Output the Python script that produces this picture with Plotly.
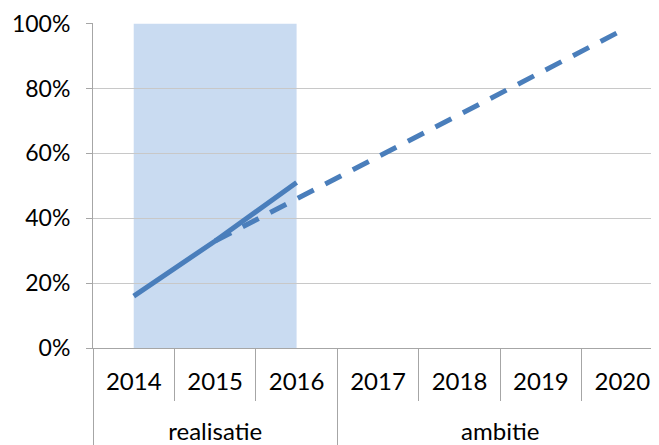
import plotly.graph_objects as go

years = ["2014", "2015", "2016", "2017", "2018", "2019", "2020"]
groups = ["realisatie", "realisatie", "realisatie", "ambitie", "ambitie", "ambitie", "ambitie"]

real_years = ["2014", "2015", "2016"]
real_groups = ["realisatie", "realisatie", "realisatie"]
real_values = [0.16, 0.33, 0.51]

amb_years = ["2015", "2016", "2017", "2018", "2019", "2020"]
amb_groups = ["realisatie", "realisatie", "ambitie", "ambitie", "ambitie", "ambitie"]
amb_values = [0.33, 0.46, 0.59, 0.72, 0.85, 0.98]

y_ticks = [0, 0.2, 0.4, 0.6, 0.8, 1.0]
y_ticklabels = ["0%", "20%", "40%", "60%", "80%", "100%"]

blue = "#4A7EBB"
xfont = dict(family="Lato, Open Sans, sans-serif", size=24, color="#000000")
yfont = dict(family="Lato, Open Sans, sans-serif", size=23, color="#000000")


def grp(g):
    # a blank first line pushes the group label further below the year labels
    return ["<br>" + v for v in g]


fig = go.Figure()
fig.add_trace(go.Scatter(x=[grp(groups), years], y=[None] * len(years), mode="lines",
                         showlegend=False, hoverinfo="skip"))
fig.add_trace(go.Scatter(x=[grp(amb_groups), amb_years], y=amb_values, mode="lines",
                         line=dict(color=blue, width=5, dash="18px,13px"),
                         showlegend=False))
fig.add_trace(go.Scatter(x=[grp(real_groups), real_years], y=real_values, mode="lines",
                         line=dict(color=blue, width=5),
                         showlegend=False))

fig.add_shape(type="rect", xref="x", yref="y", x0=0, x1=2, y0=0, y1=1,
              fillcolor="#C9DBF1", line=dict(width=0), layer="below")

# page has an 8px body margin, so the figure is 8px smaller and margins shifted
fig.update_layout(
    width=651, height=437,
    margin=dict(l=85, r=0, t=15, b=97),
    plot_bgcolor="white", paper_bgcolor="white",
    font=xfont,
    xaxis=dict(
        type="multicategory", automargin=False,
        range=[-0.5, 6.45],
        showline=True, linecolor="#A6A6A6", linewidth=1,
        ticks="outside", ticklen=52, tickcolor="#A6A6A6", tickwidth=1,
        showdividers=True, dividercolor="#A6A6A6", dividerwidth=1,
        showgrid=False, tickfont=xfont, ticklabelstandoff=12,
    ),
    yaxis=dict(
        automargin=False,
        range=[0, 1.002], tickvals=y_ticks, ticktext=y_ticklabels,
        showline=True, linecolor="#A6A6A6", linewidth=1,
        ticks="outside", ticklen=6, tickcolor="#A6A6A6",
        showgrid=True, gridcolor="#C8C8C8", gridwidth=1,
        zeroline=False, ticklabelstandoff=11, tickfont=yfont,
    ),
)

fig.write_html("out.html")
